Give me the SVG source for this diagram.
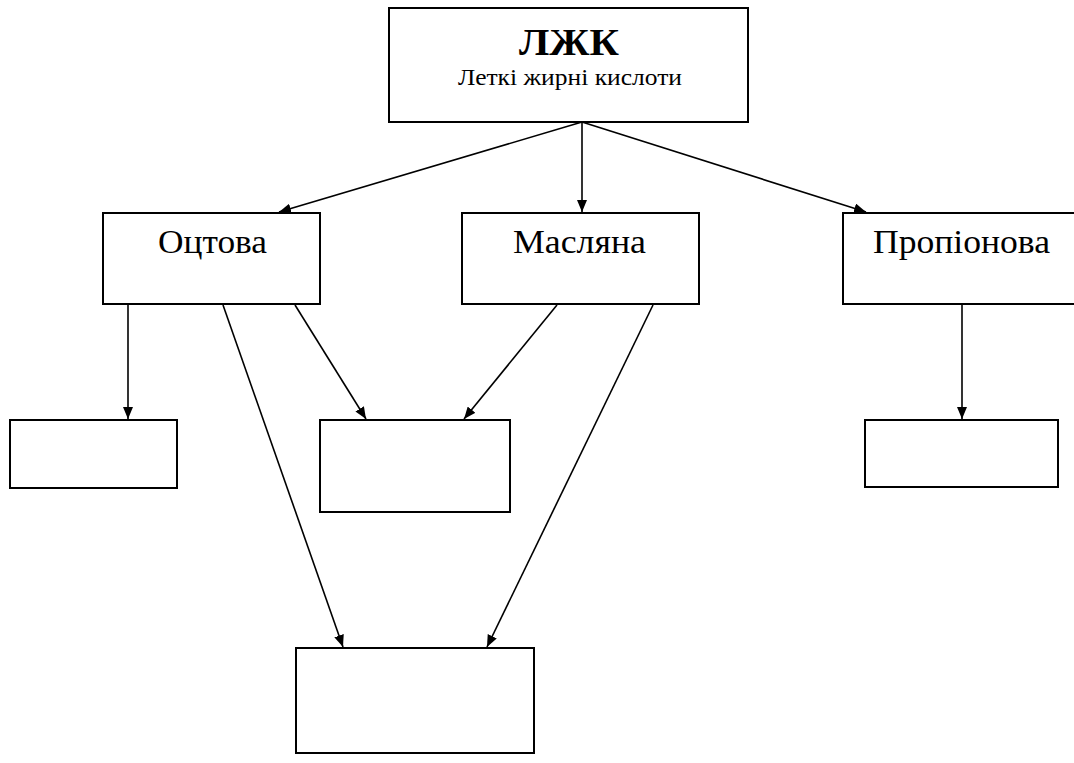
<svg xmlns="http://www.w3.org/2000/svg" width="1074" height="763" viewBox="0 0 1074 763">
<style>
.box{fill:#fff;stroke:#000;stroke-width:2}
.ln{fill:none;stroke:#000;stroke-width:1.6;marker-end:url(#ah)}
.t{font-family:"Liberation Serif","DejaVu Serif","Times New Roman",serif;fill:#000;text-anchor:middle}
</style>
<defs>
<marker id="ah" viewBox="0 0 12 10" refX="12" refY="5" markerWidth="12" markerHeight="10" markerUnits="userSpaceOnUse" orient="auto">
<path d="M0,0 L12,5 L0,10 Z" fill="#000"/>
</marker>
</defs>
<rect width="1074" height="763" fill="#fff"/>
<g id="connectors">
<line class="ln" x1="582" y1="122" x2="582" y2="212"/>
<line class="ln" x1="582" y1="122" x2="279" y2="212"/>
<line class="ln" x1="582" y1="122" x2="866" y2="212"/>
<line class="ln" x1="128" y1="305" x2="128" y2="419"/>
<line class="ln" x1="295" y1="305" x2="366" y2="419"/>
<line class="ln" x1="557" y1="305" x2="464" y2="419"/>
<line class="ln" x1="223" y1="305" x2="343" y2="647"/>
<line class="ln" x1="653" y1="305" x2="487" y2="647"/>
<line class="ln" x1="962" y1="305" x2="962" y2="419"/>
</g>
<g id="n-ljk">
<rect class="box" x="389" y="8" width="359" height="114"/>
<text class="t" x="569" y="55" font-size="37" font-weight="bold" textLength="100" lengthAdjust="spacingAndGlyphs">ЛЖК</text>
<text class="t" x="570" y="85" font-size="23" textLength="224" lengthAdjust="spacingAndGlyphs">Леткі жирні кислоти</text>
</g>
<g id="n-octova">
<rect class="box" x="103" y="213" width="217" height="91"/>
<text class="t" x="212.5" y="253" font-size="34" textLength="109" lengthAdjust="spacingAndGlyphs">Оцтова</text>
</g>
<g id="n-maslyana">
<rect class="box" x="462" y="213" width="237" height="91"/>
<text class="t" x="579.5" y="253" font-size="34" textLength="133" lengthAdjust="spacingAndGlyphs">Масляна</text>
</g>
<g id="n-propionova">
<rect class="box" x="843" y="213" width="233" height="91"/>
<text class="t" x="961.5" y="253" font-size="34" textLength="177" lengthAdjust="spacingAndGlyphs">Пропіонова</text>
</g>
<g id="n-a">
<rect class="box" x="10" y="420" width="167" height="68"/>
</g>
<g id="n-b">
<rect class="box" x="320" y="420" width="190" height="92"/>
</g>
<g id="n-c">
<rect class="box" x="865" y="420" width="193" height="67"/>
</g>
<g id="n-d">
<rect class="box" x="296" y="648" width="238" height="105"/>
</g>
</svg>
